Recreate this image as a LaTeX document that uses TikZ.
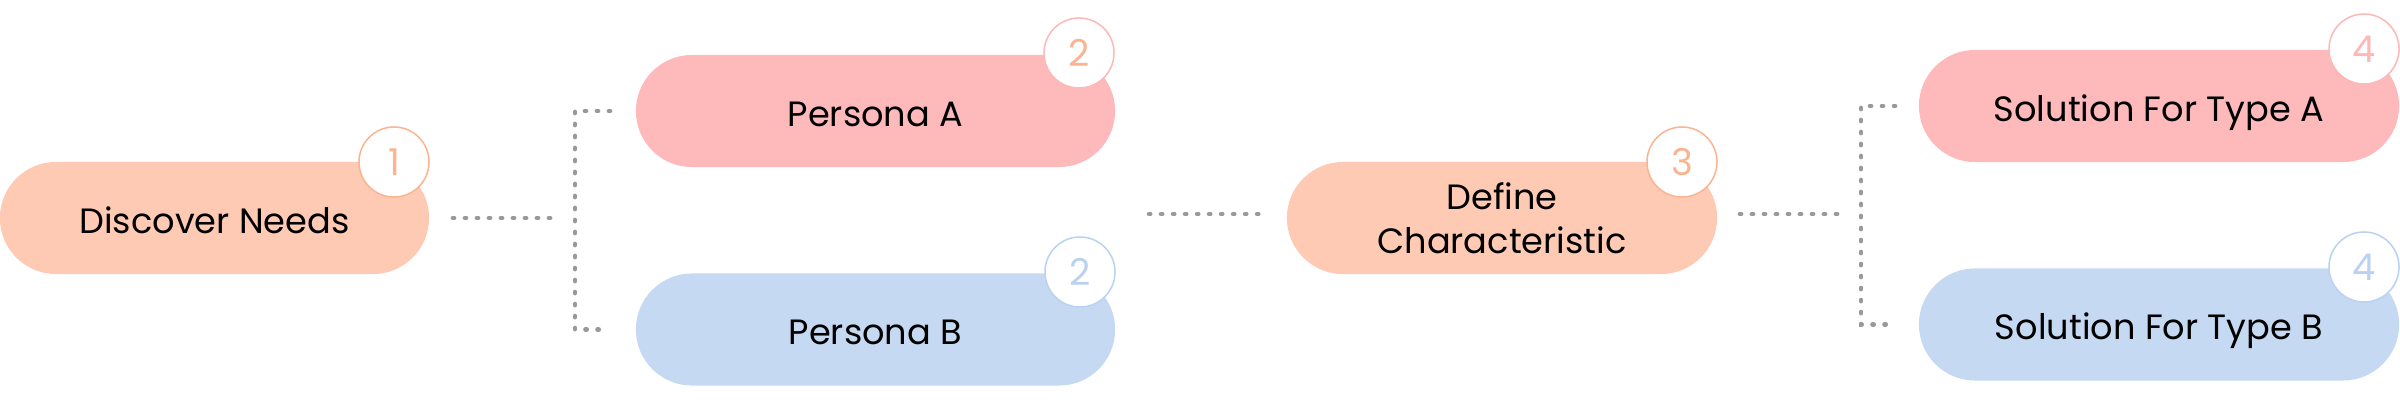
\documentclass[tikz,border=0pt]{standalone}
\usepackage{fontspec}
\setmainfont{Poppins}
\definecolor{peach}{HTML}{FECAB4}
\definecolor{pinkf}{HTML}{FEBABA}
\definecolor{bluef}{HTML}{C5D9F2}
\definecolor{peachd}{HTML}{FBB48F}
\definecolor{pinkd}{HTML}{FDB8B8}
\definecolor{blued}{HTML}{BAD2F1}
\definecolor{dotgray}{HTML}{999999}
\begin{document}
\begin{tikzpicture}[x=0.01cm,y=-0.01cm,
  pill/.style={rectangle, rounded corners=0.56cm, minimum height=1.12cm, inner sep=0pt,
    font=\fontsize{10}{12.5}\selectfont, text=black, align=center},
  oneline/.style={text height=8.7pt, text depth=0pt},
  badge/.style={circle, fill=white, draw, line width=0.015cm, minimum size=0.7cm,
    inner sep=0pt, font=\fontsize{10.5}{12}\selectfont},
  dotline/.style={draw=dotgray, line width=0.046cm, line cap=round,
    dash pattern=on 0.012cm off 0.108cm}]
\useasboundingbox (0,0) rectangle (2400,400);

\node[pill, oneline, fill=peach, minimum width=4.29cm] (disc) at (214.5,218) {Discover Needs};
\node[pill, oneline, fill=pinkf, minimum width=4.79cm] (pa) at (875.5,111) {Persona A};
\node[pill, oneline, fill=bluef, minimum width=4.79cm] (pb) at (875.5,329.5) {Persona B};
\node[pill, fill=peach, minimum width=4.30cm] (def) at (1502,218) {Define\\Characteristic};
\node[pill, oneline, fill=pinkf, minimum width=4.80cm] (sa) at (2159,106) {Solution For Type A};
\node[pill, oneline, fill=bluef, minimum width=4.80cm] (sb) at (2159,324.5) {Solution For Type B};

\node[badge, draw=peachd, text=peachd] (n1) at (394,162) {1};
\node[badge, draw=pinkd, text=peachd] (n2a) at (1079,53) {2};
\node[badge, draw=blued, text=blued] (n2b) at (1080,272) {2};
\node[badge, draw=peachd, text=peachd] (n3) at (1682,162) {3};
\node[badge, draw=pinkd, text=pinkd] (n4a) at (2364,49) {4};
\node[badge, draw=blued, text=blued] (n4b) at (2364,267) {4};

\coordinate (j1) at (575,218);
\coordinate (m1) at (1115,214);
\coordinate (j2) at (1861,214);

\draw[dotline, shorten <=0.23cm, shorten >=0.22cm] (disc.east) -- (j1);
\draw[dotline, shorten <=0.25cm, shorten >=0.34cm] (pa.west) -| (j1) |- (pb.west);
\draw[dotline, shorten <=0.34cm, shorten >=0.24cm] (m1) -- (m1 -| def.west);
\draw[dotline, shorten <=0.22cm, shorten >=0.20cm] (def.east |- j2) -- (j2);
\draw[dotline, shorten <=0.23cm, shorten >=0.32cm] (sa.west) -| (j2) |- (sb.west);
\end{tikzpicture}
\end{document}
